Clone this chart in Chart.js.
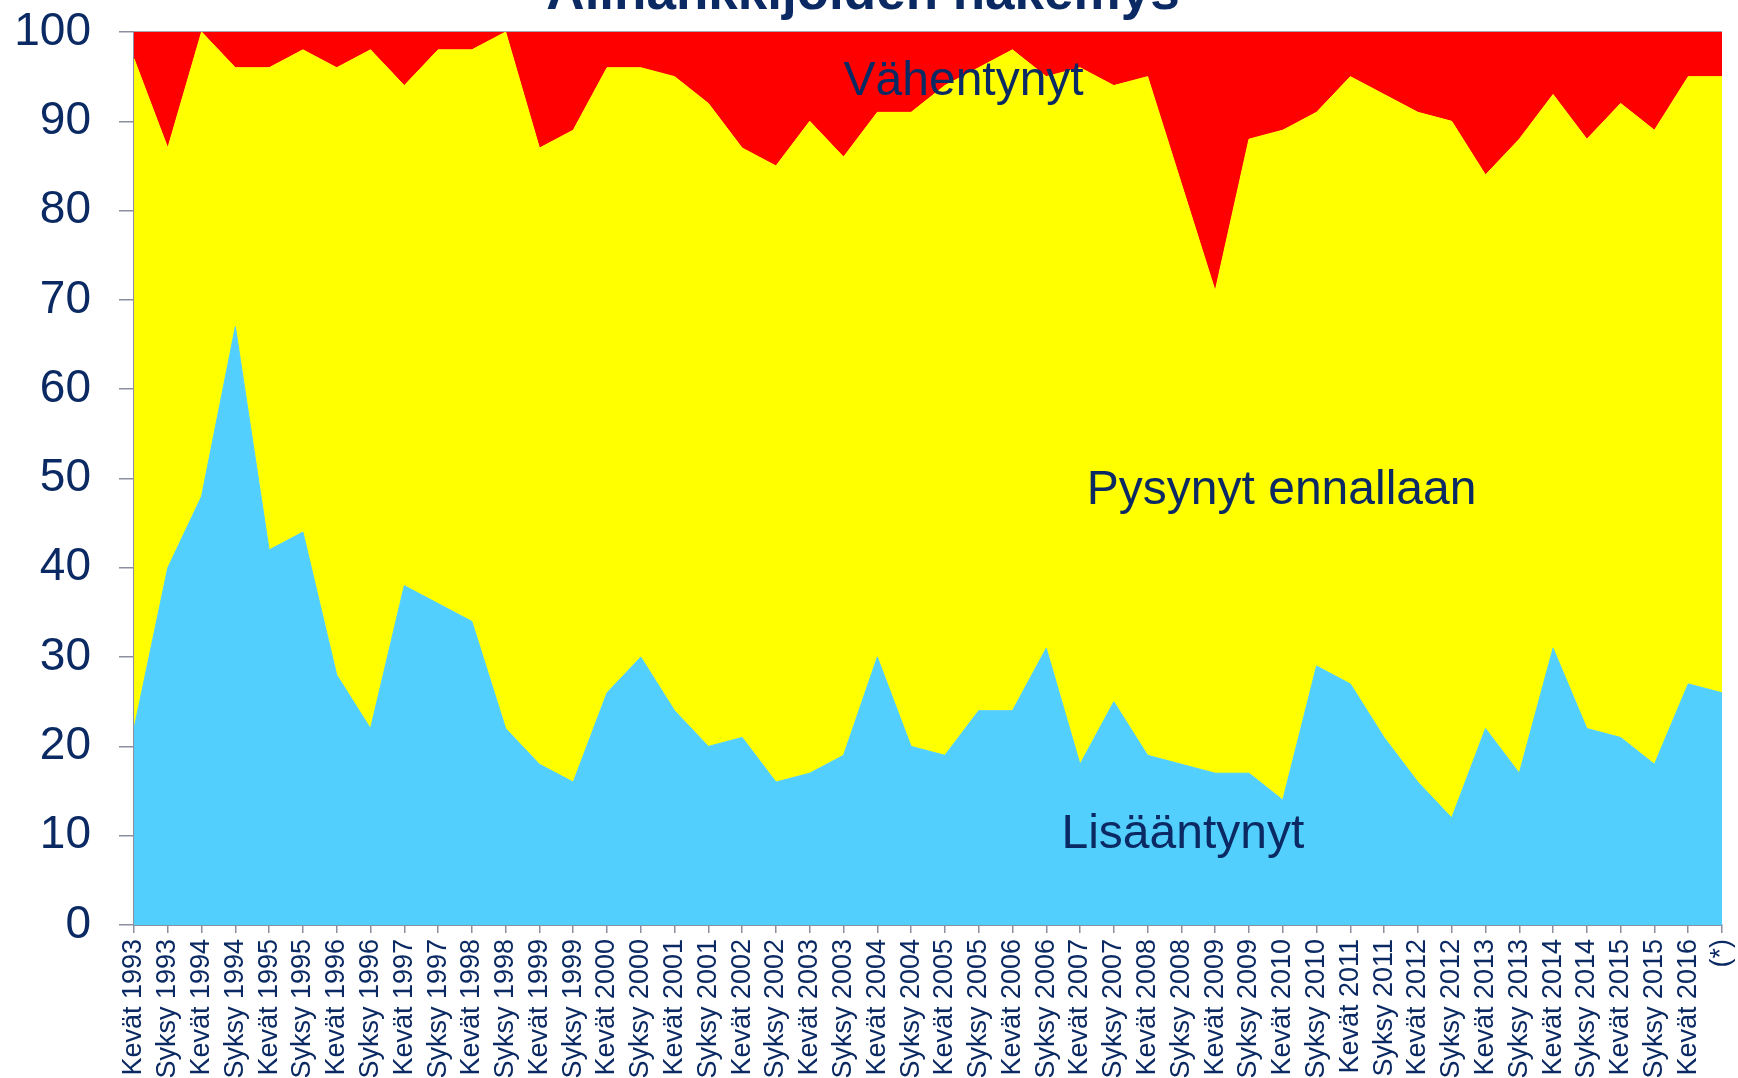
<!DOCTYPE html>
<html>
<head>
<meta charset="utf-8">
<script src="https://cdn.jsdelivr.net/npm/chart.js@4/dist/chart.umd.min.js"></script>
<style>
  html, body { margin: 0; padding: 0; background: #fff; }
  #wrap { width: 1738px; height: 1078px; position: relative; }
</style>
</head>
<body>
<div id="wrap"><canvas id="chart"></canvas></div>
<script>
const categories = [
    'Kevät 1993', 'Syksy 1993', 'Kevät 1994', 'Syksy 1994', 'Kevät 1995', 'Syksy 1995',
    'Kevät 1996', 'Syksy 1996', 'Kevät 1997', 'Syksy 1997', 'Kevät 1998', 'Syksy 1998',
    'Kevät 1999', 'Syksy 1999', 'Kevät 2000', 'Syksy 2000', 'Kevät 2001', 'Syksy 2001',
    'Kevät 2002', 'Syksy 2002', 'Kevät 2003', 'Syksy 2003', 'Kevät 2004', 'Syksy 2004',
    'Kevät 2005', 'Syksy 2005', 'Kevät 2006', 'Syksy 2006', 'Kevät 2007', 'Syksy 2007',
    'Kevät 2008', 'Syksy 2008', 'Kevät 2009', 'Syksy 2009', 'Kevät 2010', 'Syksy 2010',
    'Kevät 2011', 'Syksy 2011', 'Kevät 2012', 'Syksy 2012', 'Kevät 2013', 'Syksy 2013',
    'Kevät 2014', 'Syksy 2014', 'Kevät 2015', 'Syksy 2015', 'Kevät 2016', '(*)'
];

// percentages, stacked to 100
const lisaantynyt = [22, 40, 48, 67, 42, 44, 28, 22, 38, 36, 34, 22, 18, 16, 26, 30, 24, 20, 21, 16, 17, 19, 30, 20,
                     19, 24, 24, 31, 18, 25, 19, 18, 17, 17, 14, 29, 27, 21, 16, 12, 22, 17, 31, 22, 21, 18, 27, 26];
const pysynyt = [75, 47, 52, 29, 54, 54, 68, 76, 56, 62, 64, 78, 69, 73, 70, 66, 71, 72, 66, 69, 73, 67, 61, 71,
                 75, 72, 74, 64, 78, 69, 76, 65, 54, 71, 75, 62, 68, 72, 75, 78, 62, 71, 62, 66, 71, 71, 68, 69];
const vahentynyt = [3, 13, 0, 4, 4, 2, 4, 2, 6, 2, 2, 0, 13, 11, 4, 4, 5, 8, 13, 15, 10, 14, 9, 9,
                    6, 4, 2, 5, 4, 6, 5, 17, 29, 12, 11, 9, 5, 7, 9, 10, 16, 12, 7, 12, 8, 11, 5, 5];

const yTicks = [0, 10, 20, 30, 40, 50, 60, 70, 80, 90, 100];

const title = 'Alihankkijoiden näkemys';

// in-chart labels: category index (left edge) and value (baseline)
const areaLabels = [
    { text: 'Vähentynyt', idx: 21.0, val: 92.9 },
    { text: 'Pysynyt ennallaan', idx: 28.2, val: 47.1 },
    { text: 'Lisääntynyt', idx: 27.45, val: 8.6 }
];

const navy = '#0B2A63';
const axisGrey = '#8C8FA0';
const fontFam = '"Liberation Sans", Arial, sans-serif';

const textPlugin = {
    id: 'texts',
    afterDatasetsDraw(chart) {
        const ctx = chart.ctx;
        const xs = chart.scales.x, ys = chart.scales.y;
        const area = chart.chartArea;
        ctx.save();
        // thin line along the top of the plot
        ctx.strokeStyle = '#A6A8B4';
        ctx.lineWidth = 1;
        ctx.beginPath();
        ctx.moveTo(area.left, area.top - 0.5);
        ctx.lineTo(area.right, area.top - 0.5);
        ctx.stroke();

        ctx.fillStyle = navy;
        ctx.textBaseline = 'alphabetic';
        ctx.textAlign = 'left';
        ctx.font = '48px ' + fontFam;
        areaLabels.forEach(l => {
            ctx.fillText(l.text, xs.getPixelForValue(l.idx), ys.getPixelForValue(l.val));
        });

        ctx.textAlign = 'center';
        ctx.font = 'bold 53px ' + fontFam;
        ctx.fillText(title, (area.left + area.right) / 2 - 65, 9);
        ctx.restore();
    }
};

const ds = (label, data, color, fill) => ({
    label: label,
    data: data,
    backgroundColor: color,
    borderColor: color,
    borderWidth: 1,
    pointRadius: 0,
    tension: 0,
    fill: fill
});

new Chart(document.getElementById('chart').getContext('2d'), {
    type: 'line',
    data: {
        labels: categories,
        datasets: [
            ds('Lisääntynyt', lisaantynyt, '#53CFFE', 'origin'),
            ds('Pysynyt ennallaan', pysynyt, '#FFFF00', '-1'),
            ds('Vähentynyt', vahentynyt, '#FF0000', '-1')
        ]
    },
    options: {
        animation: false,
        responsive: true,
        maintainAspectRatio: false,
        layout: { padding: { top: 32, right: 16, left: 0, bottom: 0 } },
        plugins: {
            legend: { display: false },
            tooltip: { enabled: false },
            title: { display: false }
        },
        scales: {
            x: {
                offset: false,
                grid: { drawOnChartArea: false, tickLength: 8, color: axisGrey, lineWidth: 1.5 },
                border: { color: axisGrey, width: 2 },
                ticks: {
                    autoSkip: false,
                    maxRotation: 90,
                    minRotation: 90,
                    padding: 6,
                    color: navy,
                    font: { family: fontFam, size: 27 }
                },
                afterFit(scale) {
                    scale.height = 153;
                    scale.paddingLeft = 0;
                    scale.paddingRight = 0;
                }
            },
            y: {
                stacked: true,
                min: 0,
                max: 100,
                afterBuildTicks(scale) {
                    scale.ticks = yTicks.map(v => ({ value: v }));
                },
                grid: { drawOnChartArea: false, tickLength: 15, color: axisGrey, lineWidth: 1.5 },
                border: { color: axisGrey, width: 2 },
                ticks: {
                    padding: 28,
                    color: navy,
                    font: { family: fontFam, size: 46 }
                },
                afterFit(scale) {
                    scale.width = 134;
                    scale.paddingTop = 0;
                    scale.paddingBottom = 0;
                }
            }
        }
    },
    plugins: [textPlugin]
});
</script>
</body>
</html>
